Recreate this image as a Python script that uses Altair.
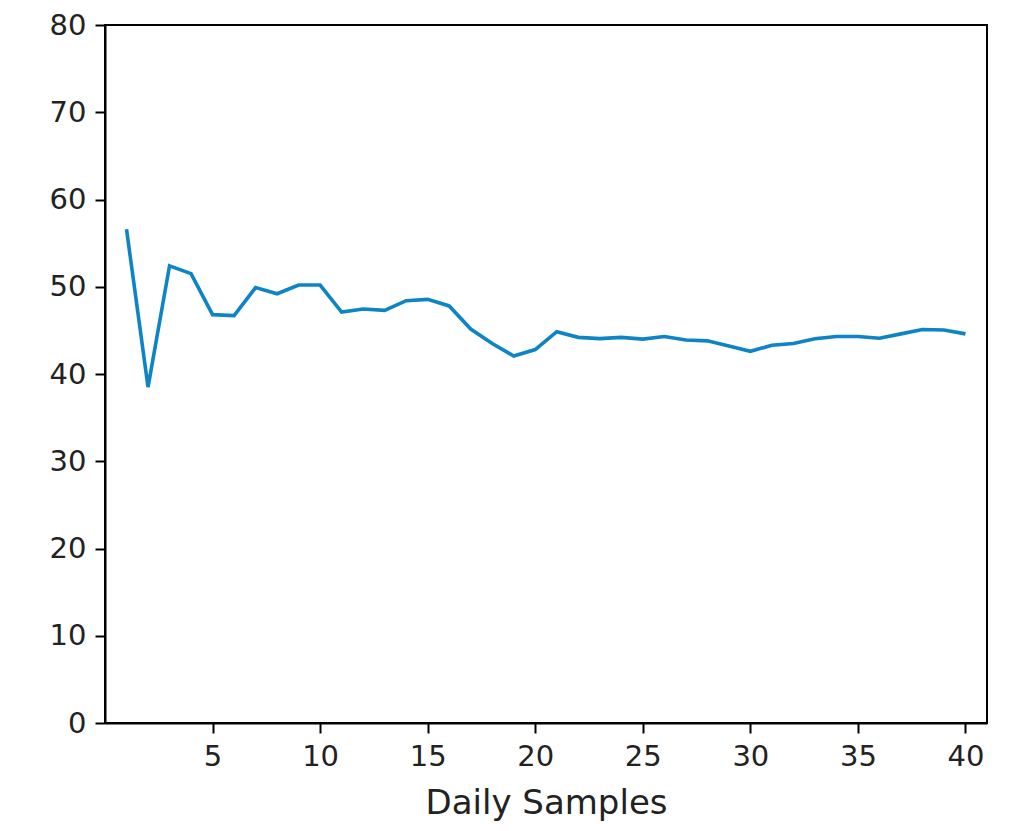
import altair as alt
import pandas as pd

days = list(range(1, 41))
values = [56.6, 38.5, 52.4, 51.5, 46.8, 46.7, 49.9, 49.2, 50.2, 50.2,
          47.1, 47.45, 47.3, 48.4, 48.55, 47.8, 45.15, 43.5, 42.06, 42.8,
          44.85, 44.2, 44.05, 44.2, 44.0, 44.3, 43.9, 43.8, 43.2, 42.6,
          43.3, 43.5, 44.05, 44.3, 44.3, 44.1, 44.6, 45.1, 45.05, 44.6]
x_ticks = [5, 10, 15, 20, 25, 30, 35, 40]
y_ticks = [0, 10, 20, 30, 40, 50, 60, 70, 80]

df = pd.DataFrame({"day": days, "value": values})

FONT = "DejaVu Sans"

chart = alt.Chart(df).mark_line(color="#0d84c6", strokeWidth=3.6).encode(
    x=alt.X("day:Q", title="Daily Samples",
            scale=alt.Scale(domain=[0, 41], nice=False, zero=False),
            axis=alt.Axis(values=x_ticks, grid=False, tickSize=10, tickWidth=2,
                          domainWidth=2, domainColor="black", tickColor="black",
                          labelFont=FONT, labelFontSize=29, labelColor="#222222",
                          labelPadding=9, titleFont=FONT, titleFontSize=34,
                          titleFontWeight="normal", titleColor="#222222",
                          titlePadding=15)),
    y=alt.Y("value:Q", title=None,
            scale=alt.Scale(domain=[0, 80], nice=False),
            axis=alt.Axis(values=y_ticks, grid=False, tickSize=10, tickWidth=2,
                          domainWidth=2, domainColor="black", tickColor="black",
                          labelFont=FONT, labelFontSize=29, labelColor="#222222",
                          labelPadding=9)),
).properties(
    width=882, height=698,
    autosize=alt.AutoSizeParams(type="none"),
    padding={"left": 97, "top": 17, "right": 15, "bottom": 106},
).configure_view(stroke="black", strokeWidth=2)

chart.save("out.html", embed_options={"renderer": "svg", "actions": False})
